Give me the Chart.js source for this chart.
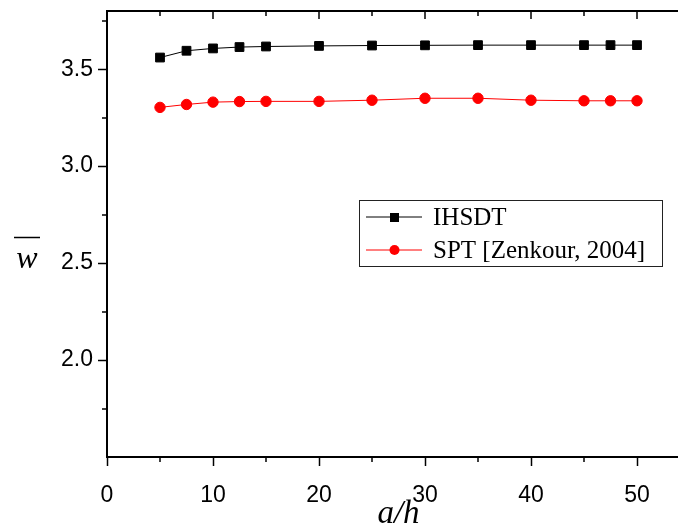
<!DOCTYPE html>
<html>
<head>
<meta charset="utf-8">
<script src="https://cdn.jsdelivr.net/npm/chart.js@4.4.1/dist/chart.umd.min.js"></script>
<style>
  html, body { margin: 0; padding: 0; background: #fff; }
  /* the right edge of the frame lies outside the picture, so the canvas is wider and clipped */
  #wrap { width: 678px; height: 527px; overflow: hidden; }
</style>
</head>
<body>
<div id="wrap"><canvas id="c" width="700" height="527"></canvas></div>
<script>
// data
const aOverH = [5, 7.5, 10, 12.5, 15, 20, 25, 30, 35, 40, 45, 47.5, 50];
const ihsdt  = [3.560, 3.595, 3.607, 3.614, 3.617, 3.620, 3.622, 3.623, 3.624, 3.624, 3.624, 3.624, 3.624];
const spt    = [3.303, 3.318, 3.330, 3.333, 3.334, 3.334, 3.340, 3.350, 3.350, 3.340, 3.337, 3.337, 3.337];
const seriesNames = ['IHSDT', 'SPT [Zenkour, 2004]'];

// axis ticks
const xTicks = [0, 10, 20, 30, 40, 50];
const xMinor = [5, 15, 25, 35, 45];
const yTicks = [2.0, 2.5, 3.0, 3.5];
const yMinor = [1.75, 2.25, 2.75, 3.25, 3.75];

const SANS = '"Liberation Sans", Arial, sans-serif';
const SERIF = '"Liberation Serif", "Times New Roman", serif';

const pts = ys => aOverH.map((x, i) => ({ x, y: ys[i] }));

// frame extras: top border, inward top ticks, outward minor ticks
const frame = {
  id: 'frame',
  afterDraw(chart) {
    const { ctx, chartArea: a, scales: { x, y } } = chart;
    ctx.save();
    ctx.strokeStyle = '#000';
    ctx.lineWidth = 2;
    ctx.beginPath(); ctx.moveTo(a.left - 1, a.top); ctx.lineTo(a.right, a.top); ctx.stroke();
    ctx.lineWidth = 1.5;
    ctx.beginPath();
    xTicks.concat(xMinor).forEach(v => {
      const px = Math.round(x.getPixelForValue(v));
      const len = xTicks.includes(v) ? 8 : 5;
      ctx.moveTo(px, a.top); ctx.lineTo(px, a.top + len);
      if (!xTicks.includes(v)) { ctx.moveTo(px, a.bottom); ctx.lineTo(px, a.bottom + 5); }
    });
    yMinor.forEach(v => {
      const py = Math.round(y.getPixelForValue(v));
      ctx.moveTo(a.left, py); ctx.lineTo(a.left - 5, py);
    });
    ctx.stroke();
    ctx.restore();
  }
};

// y title: italic w with a bar over it, written horizontally
const yTitle = {
  id: 'yTitle',
  afterDraw(chart) {
    const { ctx } = chart;
    ctx.save();
    ctx.fillStyle = '#000';
    ctx.font = 'italic 32px ' + SERIF;
    ctx.textAlign = 'center';
    ctx.textBaseline = 'alphabetic';
    ctx.fillText('w', 27, 268);
    ctx.lineWidth = 1.5;
    ctx.beginPath(); ctx.moveTo(14, 237.5); ctx.lineTo(40, 237.5); ctx.stroke();
    ctx.restore();
  }
};

// boxed legend with line + marker samples
const boxLegend = {
  id: 'boxLegend',
  afterDraw(chart) {
    const { ctx } = chart;
    const bx = 359.5, by = 200.5, bw = 303, bh = 66;
    ctx.save();
    ctx.fillStyle = '#fff';
    ctx.fillRect(bx, by, bw, bh);
    ctx.strokeStyle = '#222';
    ctx.lineWidth = 1;
    ctx.strokeRect(bx, by, bw, bh);
    ctx.font = '25px ' + SERIF;
    ctx.textBaseline = 'middle';
    chart.data.datasets.forEach((ds, i) => {
      const cy = 217 + i * 33;
      ctx.strokeStyle = ds.borderColor;
      ctx.fillStyle = ds.backgroundColor;
      ctx.lineWidth = 1;
      ctx.beginPath(); ctx.moveTo(366, cy); ctx.lineTo(422, cy); ctx.stroke();
      if (ds.pointStyle === 'rect') ctx.fillRect(390, cy - 4, 9, 9);
      else { ctx.beginPath(); ctx.arc(394.5, cy, 5, 0, Math.PI * 2); ctx.fill(); }
      ctx.fillStyle = '#000';
      ctx.fillText(ds.label, 433, cy + 1);
    });
    ctx.restore();
  }
};

new Chart(document.getElementById('c'), {
  type: 'line',
  data: {
    datasets: [
      { label: seriesNames[0], data: pts(ihsdt), borderColor: '#000', backgroundColor: '#000',
        borderWidth: 1, pointStyle: 'rect', pointRadius: 6.2, pointBorderWidth: 1 },
      { label: seriesNames[1], data: pts(spt), borderColor: '#ff0000', backgroundColor: '#ff0000',
        borderWidth: 1, pointStyle: 'circle', pointRadius: 5.2, pointBorderWidth: 1 }
    ]
  },
  options: {
    responsive: false,
    animation: false,
    devicePixelRatio: 1,
    layout: { padding: { top: 11, right: 10, left: 0, bottom: 0 } },
    plugins: { legend: { display: false }, tooltip: { enabled: false } },
    scales: {
      x: {
        type: 'linear', min: 0, max: 55,
        afterBuildTicks: s => { s.ticks = xTicks.map(value => ({ value })); },
        afterFit: s => { s.height = 70; s.paddingLeft = 0; s.paddingRight = 0; },
        border: { color: '#000', width: 2 },
        grid: { drawOnChartArea: false, drawTicks: true, tickLength: 9, tickColor: '#000', tickWidth: 1.5 },
        ticks: { color: '#000', padding: 16, maxRotation: 0, font: { family: SANS, size: 23 } },
        title: { display: true, text: 'a/h', color: '#000', padding: 0,
                 font: { family: SERIF, size: 33, style: 'italic', lineHeight: 0.75 } }
      },
      y: {
        min: 1.5, max: 3.8,
        afterBuildTicks: s => { s.ticks = yTicks.map(value => ({ value })); },
        // fixed width, and no extra room above for the label overhang
        afterFit: s => { s.width = 107; s.paddingTop = 0; s.paddingBottom = 0; },
        border: { color: '#000', width: 2 },
        grid: { drawOnChartArea: false, drawTicks: true, tickLength: 9, tickColor: '#000', tickWidth: 1.5 },
        ticks: { color: '#000', padding: 5, callback: v => v.toFixed(1), font: { family: SANS, size: 23 } }
      }
    }
  },
  plugins: [frame, yTitle, boxLegend]
});
</script>
</body>
</html>
